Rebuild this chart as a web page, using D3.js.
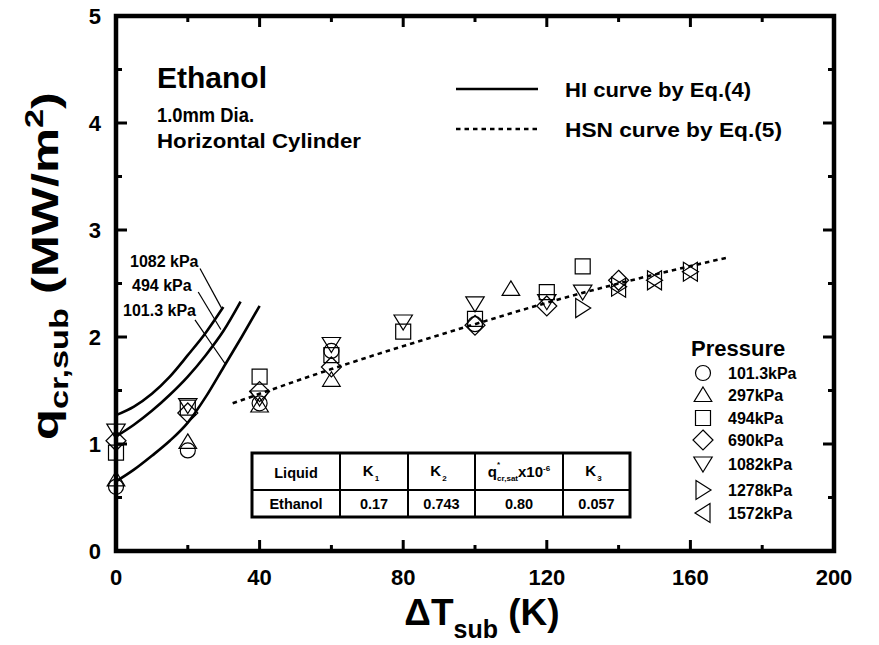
<!DOCTYPE html>
<html>
<head>
<meta charset="utf-8">
<script src="https://cdn.jsdelivr.net/npm/d3@7"></script>
<style>
  html, body { margin: 0; padding: 0; background: #fff; }
  svg { display: block; }
  text { font-family: "Liberation Sans", Arial, Helvetica, sans-serif; font-weight: bold; fill: #000; }
</style>
</head>
<body>
<svg id="chart" width="879" height="645"></svg>
<script>
// ---- axis ticks ----
const xMajorTicks = [0, 40, 80, 120, 160, 200];
const xMinorTicks = [20, 60, 100, 140, 180];
const yMajorTicks = [0, 1, 2, 3, 4, 5];
const yMinorTicks = [0.5, 1.5, 2.5, 3.5, 4.5];

// ---- measured CHF data: [subcooling K, q MW/m2] ----
const p101 = [[0, 0.60], [20, 0.94], [40, 1.38], [60, 1.87], [100, 2.12]];
const p297 = [[0, 0.67], [20, 1.02], [40, 1.36], [60, 1.60], [110, 2.45]];
const p494 = [[0, 0.92], [20, 1.34], [40, 1.63], [60, 1.83], [80, 2.05], [100, 2.17], [120, 2.42], [130, 2.66]];
const p690 = [[0, 1.03], [20, 1.29], [40, 1.49], [60, 1.72], [100, 2.11], [120, 2.29], [140, 2.53]];
const p1082 = [[0, 1.12], [20, 1.36], [40, 1.43], [60, 1.93], [80, 2.14], [100, 2.31], [120, 2.33], [130, 2.42]];
const p1278 = [[130, 2.27], [140, 2.47], [150, 2.53], [160, 2.61]];
const p1572 = [[140, 2.46], [150, 2.53], [160, 2.61]];

const seriesNames = ["101.3kPa", "297kPa", "494kPa", "690kPa", "1082kPa", "1278kPa", "1572kPa"];
const seriesShapes = ["circle", "triUp", "square", "diamond", "triDown", "triRight", "triLeft"];

// ---- HI curves, Eq.(4) ----
const hi101 = [[0, 0.65], [5, 0.76], [10, 0.89], [15, 1.03], [20, 1.20], [25, 1.44], [30, 1.72], [35, 2.00], [40, 2.29]];
const hi494 = [[0, 1.07], [5, 1.18], [10, 1.31], [15, 1.46], [20, 1.63], [25, 1.83], [30, 2.06], [34.7, 2.33]];
const hi1082 = [[0, 1.27], [5, 1.35], [10, 1.47], [15, 1.63], [20, 1.83], [25, 2.04], [29.9, 2.28]];
const hiLabels = ["1082 kPa", "494 kPa", "101.3 kPa"];
// leader lines from the labels to their curves
const leader1082 = [[23.4, 2.64], [29.4, 2.27]];
const leader494 = [[22.9, 2.42], [29.2, 2.07]];
const leader101 = [[22.0, 2.16], [30.4, 1.75]];

// ---- HSN curve, Eq.(5) ----
const hsn = [[32.5, 1.38], [60, 1.70], [100, 2.12], [120, 2.32], [140, 2.50], [170, 2.74]];

// ---- constants table ----
const tableHeader = ["Liquid", "K1", "K2", "q*", "K3"];
const tableRow = ["Ethanol", "0.17", "0.743", "0.80", "0.057"];

const svg = d3.select("#chart");
const L = 116, R = 834, T = 16, B = 551;
const x = d3.scaleLinear().domain([0, 200]).range([L, R]);
const y = d3.scaleLinear().domain([0, 5]).range([B, T]);

// ---- marker shapes ----
function shapePath(kind) {
  switch (kind) {
    case "circle": return "M7.5,0A7.5,7.5 0 1,1 -7.5,0A7.5,7.5 0 1,1 7.5,0Z";
    case "square": return "M-7.5,-7.5H7.5V7.5H-7.5Z";
    case "triUp": return "M0,-8L8.8,6.5H-8.8Z";
    case "triDown": return "M0,8L9.2,-7H-9.2Z";
    case "diamond": return "M0,-10L10,0L0,10L-10,0Z";
    case "triRight": return "M-7,-9.5L8,0L-7,9.5Z";
    case "triLeft": return "M7,-9.5L-8,0L7,9.5Z";
  }
}

// ---- curves ----
const line = d3.line().x(d => x(d[0])).y(d => y(d[1])).curve(d3.curveMonotoneX);
const curves = svg.append("g");
[hi101, hi494, hi1082].forEach(c => {
  curves.append("path").attr("d", line(c)).attr("fill", "none")
    .attr("stroke", "#000").attr("stroke-width", 2.6);
});
curves.append("path").attr("d", line(hsn)).attr("fill", "none")
  .attr("stroke", "#000").attr("stroke-width", 2.6).attr("stroke-dasharray", "4.5,4");

// leader lines
const straight = d3.line().x(d => x(d[0])).y(d => y(d[1]));
[leader1082, leader494, leader101].forEach(l => {
  curves.append("path").attr("d", straight(l)).attr("fill", "none")
    .attr("stroke", "#000").attr("stroke-width", 1.2);
});
// curve labels
const labelPos = [[130, 267], [132, 291], [123, 316]];
hiLabels.forEach((t, i) => {
  svg.append("text").attr("x", labelPos[i][0]).attr("y", labelPos[i][1])
    .attr("font-size", 16).text(t);
});

// ---- data markers ----
const allSeries = [p101, p297, p494, p690, p1082, p1278, p1572];
const markers = svg.append("g");
allSeries.forEach((s, i) => {
  markers.selectAll(null).data(s).enter().append("path")
    .attr("d", shapePath(seriesShapes[i]))
    .attr("transform", d => `translate(${x(d[0])},${y(d[1])})`)
    .attr("fill", "none").attr("stroke", "#000").attr("stroke-width", 1.2);
});

// ---- frame and ticks ----
const axes = svg.append("g");
axes.append("rect").attr("x", L).attr("y", T).attr("width", R - L).attr("height", B - T)
  .attr("fill", "none").attr("stroke", "#000").attr("stroke-width", 4.5);
function tickSet(vals, len, isX) {
  vals.forEach(v => {
    if (isX) {
      axes.append("line").attr("x1", x(v)).attr("x2", x(v)).attr("y1", B).attr("y2", B - len)
        .attr("stroke", "#000").attr("stroke-width", 3);
      axes.append("line").attr("x1", x(v)).attr("x2", x(v)).attr("y1", T).attr("y2", T + len)
        .attr("stroke", "#000").attr("stroke-width", 3);
    } else {
      axes.append("line").attr("y1", y(v)).attr("y2", y(v)).attr("x1", L).attr("x2", L + len)
        .attr("stroke", "#000").attr("stroke-width", 3);
      axes.append("line").attr("y1", y(v)).attr("y2", y(v)).attr("x1", R).attr("x2", R - len)
        .attr("stroke", "#000").attr("stroke-width", 3);
    }
  });
}
tickSet(xMajorTicks, 11, true);
tickSet(xMinorTicks, 6, true);
tickSet(yMajorTicks, 11, false);
tickSet(yMinorTicks, 6, false);

axes.selectAll(null).data(xMajorTicks).enter().append("text")
  .attr("x", d => x(d)).attr("y", 585).attr("text-anchor", "middle")
  .attr("font-size", 22).text(d => d);
axes.selectAll(null).data(yMajorTicks).enter().append("text")
  .attr("x", 101).attr("y", d => y(d) + 8).attr("text-anchor", "end")
  .attr("font-size", 22).text(d => d);

// axis titles
const xt = svg.append("text").attr("x", 482).attr("y", 625).attr("text-anchor", "middle").attr("font-size", 37);
xt.append("tspan").text("\u0394T");
xt.append("tspan").attr("font-size", 25).attr("dy", 13).text("sub");
xt.append("tspan").attr("dy", -13).text(" (K)");

const yt = svg.append("text").attr("transform", "translate(58,266) rotate(-90)")
  .attr("text-anchor", "middle").attr("font-size", 37)
  .attr("textLength", 348).attr("lengthAdjust", "spacingAndGlyphs");
yt.append("tspan").text("q");
yt.append("tspan").attr("font-size", 25).attr("dy", 10).text("cr,sub");
yt.append("tspan").attr("dy", -10).text(" (MW/m");
yt.append("tspan").attr("font-size", 25).attr("dy", -15).text("2");
yt.append("tspan").attr("dy", 15).text(")");

// ---- annotation block ----
svg.append("text").attr("x", 157).attr("y", 88).attr("font-size", 30).text("Ethanol");
svg.append("text").attr("x", 157).attr("y", 122).attr("font-size", 19.5)
  .attr("textLength", 97).attr("lengthAdjust", "spacingAndGlyphs").text("1.0mm Dia.");
svg.append("text").attr("x", 157).attr("y", 148).attr("font-size", 19.5)
  .attr("textLength", 204).attr("lengthAdjust", "spacingAndGlyphs").text("Horizontal Cylinder");

svg.append("line").attr("x1", 456).attr("x2", 538).attr("y1", 89).attr("y2", 89)
  .attr("stroke", "#000").attr("stroke-width", 2.6);
svg.append("line").attr("x1", 456).attr("x2", 538).attr("y1", 129).attr("y2", 129)
  .attr("stroke", "#000").attr("stroke-width", 2.6).attr("stroke-dasharray", "4.5,4");
svg.append("text").attr("x", 565).attr("y", 97).attr("font-size", 21)
  .attr("textLength", 186).attr("lengthAdjust", "spacingAndGlyphs").text("HI curve by Eq.(4)");
svg.append("text").attr("x", 565).attr("y", 137).attr("font-size", 21)
  .attr("textLength", 217).attr("lengthAdjust", "spacingAndGlyphs").text("HSN curve by Eq.(5)");

// ---- pressure legend ----
svg.append("text").attr("x", 691).attr("y", 356).attr("font-size", 22).text("Pressure");
const legRows = [373, 395, 418, 440, 464, 490, 513];
seriesNames.forEach((n, i) => {
  svg.append("path").attr("d", shapePath(seriesShapes[i]))
    .attr("transform", `translate(703,${legRows[i]})`)
    .attr("fill", "none").attr("stroke", "#000").attr("stroke-width", 1.2);
  svg.append("text").attr("x", 728).attr("y", legRows[i] + 6).attr("font-size", 16).text(n);
});

// ---- constants table ----
const colX = [252, 340, 408, 475, 563, 630];
const rowY = [453, 490, 517];
const tb = svg.append("g");
tb.append("rect").attr("x", colX[0]).attr("y", rowY[0]).attr("width", colX[5] - colX[0])
  .attr("height", rowY[2] - rowY[0]).attr("fill", "#fff").attr("stroke", "#000").attr("stroke-width", 3);
tb.append("line").attr("x1", colX[0]).attr("x2", colX[5]).attr("y1", rowY[1]).attr("y2", rowY[1])
  .attr("stroke", "#000").attr("stroke-width", 2);
colX.slice(1, 5).forEach(cx => {
  tb.append("line").attr("x1", cx).attr("x2", cx).attr("y1", rowY[0]).attr("y2", rowY[2])
    .attr("stroke", "#000").attr("stroke-width", 2);
});
const mid = i => (colX[i] + colX[i + 1]) / 2;
tb.append("text").attr("x", mid(0)).attr("y", 478).attr("text-anchor", "middle").attr("font-size", 14.5).text(tableHeader[0]);
[1, 2, 4].forEach(i => {
  const t = tb.append("text").attr("x", mid(i) - 3).attr("y", 476).attr("text-anchor", "middle").attr("font-size", 15);
  t.append("tspan").text(tableHeader[i][0]);
  t.append("tspan").attr("font-size", 8).attr("dy", 5).attr("dx", 1).text(tableHeader[i].slice(1));
});
const qt = tb.append("text").attr("x", mid(3)).attr("y", 477).attr("text-anchor", "middle").attr("font-size", 15);
qt.append("tspan").text("q");
qt.append("tspan").attr("font-size", 8).attr("dy", -10).text("*");
qt.append("tspan").attr("font-size", 8).attr("dy", 14).attr("dx", -3).text("cr,sat");
qt.append("tspan").attr("dy", -4).text("x10");
qt.append("tspan").attr("font-size", 8).attr("dy", -6).text("-6");
tableRow.forEach((v, i) => {
  tb.append("text").attr("x", mid(i)).attr("y", 509).attr("text-anchor", "middle").attr("font-size", 14.5).text(v);
});
</script>
</body>
</html>
